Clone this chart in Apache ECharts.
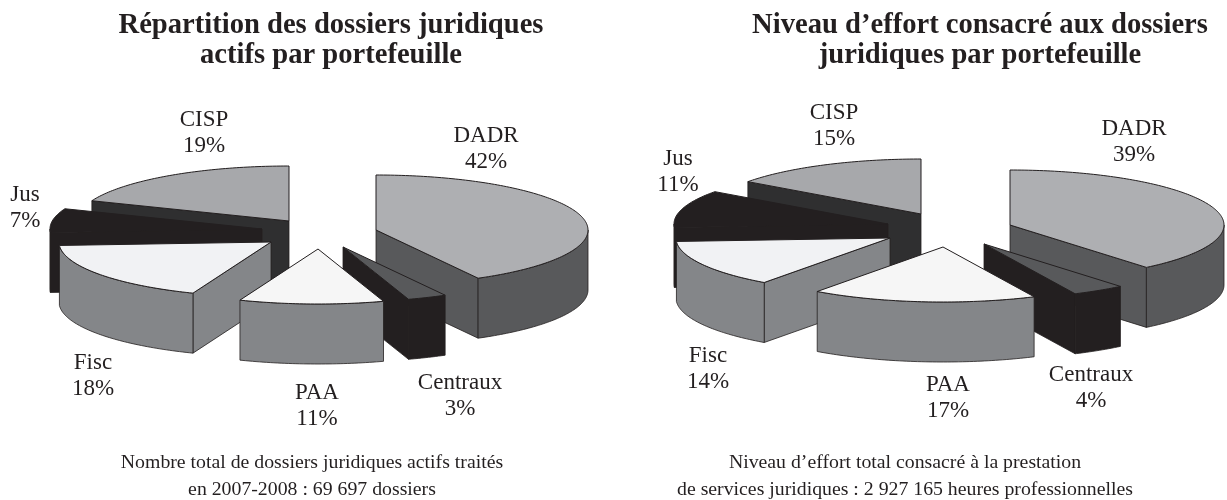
<!DOCTYPE html>
<html><head><meta charset="utf-8">
<style>html,body{margin:0;padding:0;background:#fff}#c{width:1227px;height:500px}</style>
<script src="https://cdn.jsdelivr.net/npm/echarts@6/dist/echarts.min.js"></script>
</head><body><div id="c"></div>
<script>
// Data
const categories = ['DADR','Centraux','PAA','Fisc','Jus','CISP'];
const dossiersShare = [42,3,11,18,7,19];
const effortShare = [39,4,17,14,11,15];
const titleLeft = 'Répartition des dossiers juridiques\nactifs par portefeuille';
const titleRight = 'Niveau d’effort consacré aux dossiers\njuridiques par portefeuille';
const noteLeft = 'Nombre total de dossiers juridiques actifs traités\nen 2007-2008 : 69 697 dossiers';
const noteRight = 'Niveau d’effort total consacré à la prestation\nde services juridiques : 2 927 165 heures professionnelles';

// Style and layout
const FONT = '"Liberation Serif",serif';
const INK = '#231f20';
const colours = {
  DADR:{top:'#aeafb2',side:'#58595b'}, Centraux:{top:'#58595b',side:'#231f20'},
  PAA:{top:'#f6f6f6',side:'#848689'}, Fisc:{top:'#f1f2f4',side:'#848689'},
  Jus:{top:'#231f20',side:'#231f20'}, CISP:{top:'#a7a8ab',side:'#2f2f30'}
};
const paintRank = {CISP:0,Jus:1,Fisc:2,DADR:3,Centraux:4,PAA:5};
const leftLayout = {rx:212,ry:55,depth:60,
  apex:{DADR:[376,230],Centraux:[343,247],PAA:[318,249],Fisc:[271,242],Jus:[262,229],CISP:[289,221]},
  label:{DADR:[486,149],Centraux:[460,396],PAA:[317,406],Fisc:[93,376],Jus:[25,208],CISP:[204,133]}};
const rightLayout = {rx:214,ry:55,depth:60,
  apex:{DADR:[1010,225],Centraux:[984,244],PAA:[943,247],Fisc:[890,238],Jus:[888,224],CISP:[921,214]},
  label:{DADR:[1134,142],Centraux:[1091,388],PAA:[948,398],Fisc:[708,369],Jus:[678,172],CISP:[834,126]}};

function makeRender(shares, L){
  return function(params, api){
    const i = params.dataIndex, v = api.value(0), name = categories[i];
    const before = shares.slice(0,i).reduce((a,b)=>a+b,0);
    const total = shares.reduce((a,b)=>a+b,0);
    const a1 = before/total*360, a2 = (before+v)/total*360;
    const [cx,cy] = L.apex[name];
    const pt = (a,dy=0)=>{const r=a*Math.PI/180;return [cx+L.rx*Math.sin(r),cy-L.ry*Math.cos(r)+dy];};
    const col = colours[name], base = paintRank[name]*10, kids = [];
    const poly = (pts,fill,z,lw)=>kids.push({type:'polygon',z2:base+z,shape:{points:pts},
      style:{fill,stroke:INK,lineWidth:lw,lineJoin:'round'}});
    const sinD = a=>Math.sin(a*Math.PI/180);
    if(sinD(a1)<-1e-6) poly([[cx,cy],pt(a1),pt(a1,L.depth),[cx,cy+L.depth]],col.side,0,.8);
    if(sinD(a2)>1e-6) poly([[cx,cy],pt(a2),pt(a2,L.depth),[cx,cy+L.depth]],col.side,1,.8);
    const s1=Math.max(a1,90), s2=Math.min(a2,270);
    if(s2>s1){
      const up=[],down=[];
      for(let a=s1;;a=Math.min(a+1,s2)){up.push(pt(a));down.unshift(pt(a,L.depth));if(a>=s2)break;}
      poly(up.concat(down),col.side,2,.8);
    }
    const top=[[cx,cy]];
    for(let a=a1;;a=Math.min(a+1,a2)){top.push(pt(a));if(a>=a2)break;}
    poly(top,col.top,3,1);
    kids.push({type:'text',z2:100,style:{text:name+'\n'+v+'%',x:L.label[name][0],y:L.label[name][1],
      align:'center',verticalAlign:'middle',fill:INK,font:'23px '+FONT,lineHeight:26}});
    return {type:'group',children:kids};
  };
}
const heading = (text,x,y)=>({text,left:x,top:y,textAlign:'center',padding:0,
  textStyle:{fontFamily:FONT,fontWeight:'bold',fontSize:28.6,lineHeight:30,color:INK}});
const note = (text,x,y)=>({text,left:x,top:y,textAlign:'center',padding:0,
  textStyle:{fontFamily:FONT,fontWeight:'normal',fontSize:19.8,lineHeight:27,color:INK}});
const chart = echarts.init(document.getElementById('c'),null,{renderer:'canvas'});
const series = (shares,L,name)=>({type:'custom',name,coordinateSystem:'none',animation:false,silent:true,
  renderItem:makeRender(shares,L),data:shares.map(v=>[v])});
chart.setOption({animation:false,backgroundColor:'#fff',
  title:[heading(titleLeft,331,11),heading(titleRight,980,11),note(noteLeft,312,449),note(noteRight,905,449)],
  series:[series(dossiersShare,leftLayout,'Dossiers'),series(effortShare,rightLayout,'Effort')]});
</script></body></html>
